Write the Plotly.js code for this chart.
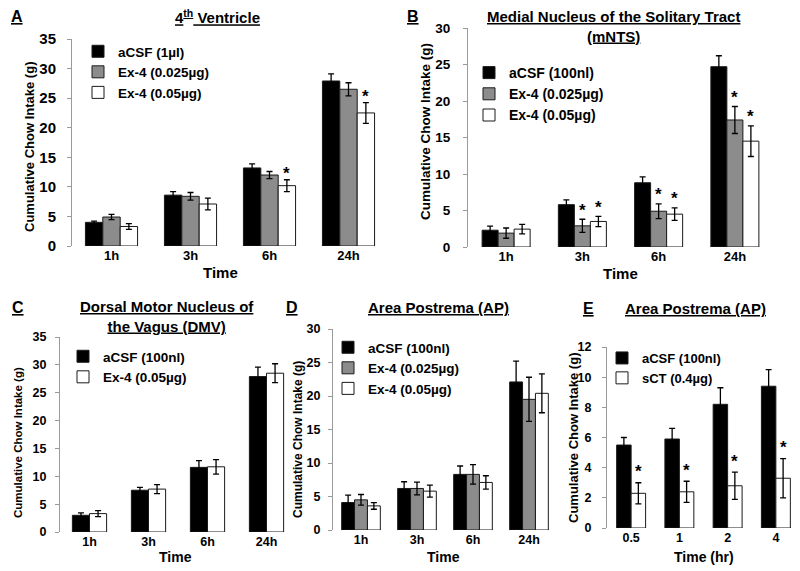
<!DOCTYPE html>
<html>
<head>
<meta charset="utf-8">
<script src="https://cdn.plot.ly/plotly-3.0.1.min.js"></script>
<style>html,body{margin:0;padding:0;background:#fff;}#chart{width:800px;height:571px;}</style>
</head>
<body>
<div id="chart"></div>
<script>
// ---------- DATA ----------
const timeCats = ['1h', '3h', '6h', '24h'];
const hrCats = ['0.5', '1', '2', '4'];

// Panel A: 4th Ventricle
const A_aCSF = [4.0, 8.6, 13.2, 27.9];
const A_aCSF_err = [0.2, 0.6, 0.7, 1.2];
const A_ex025 = [4.9, 8.4, 12.0, 26.5];
const A_ex025_err = [0.45, 0.65, 0.6, 1.1];
const A_ex05 = [3.3, 7.1, 10.2, 22.5];
const A_ex05_err = [0.5, 1.0, 1.0, 1.75];
const A_ex025_sig = [0, 0, 0, 0];
const A_ex05_sig = [0, 0, 1, 1];

// Panel B: mNTS
const B_aCSF = [2.3, 5.8, 8.8, 24.7];
const B_aCSF_err = [0.55, 0.65, 0.8, 1.5];
const B_ex025 = [1.9, 2.9, 4.9, 17.4];
const B_ex025_err = [0.7, 0.9, 1.0, 1.85];
const B_ex05 = [2.45, 3.5, 4.5, 14.5];
const B_ex05_err = [0.65, 0.7, 0.85, 2.1];
const B_ex025_sig = [0, 1, 1, 1];
const B_ex05_sig = [0, 1, 1, 1];

// Panel C: DMV
const C_aCSF = [3.0, 7.5, 11.6, 27.9];
const C_aCSF_err = [0.45, 0.5, 1.2, 1.7];
const C_ex05 = [3.3, 7.7, 11.7, 28.5];
const C_ex05_err = [0.55, 0.8, 1.3, 1.7];

// Panel D: AP (Ex-4)
const D_aCSF = [4.1, 6.2, 8.3, 22.1];
const D_aCSF_err = [1.1, 1.0, 1.25, 3.1];
const D_ex025 = [4.5, 6.2, 8.3, 19.5];
const D_ex025_err = [0.8, 0.95, 1.45, 3.3];
const D_ex05 = [3.6, 5.8, 7.1, 20.4];
const D_ex05_err = [0.5, 0.9, 1.0, 2.9];

// Panel E: AP (sCT)
const E_aCSF = [5.5, 5.9, 8.2, 9.4];
const E_aCSF_err = [0.5, 0.7, 1.1, 1.1];
const E_sCT = [2.3, 2.4, 2.8, 3.3];
const E_sCT_err = [0.7, 0.7, 0.9, 1.3];
const E_sCT_sig = [1, 1, 1, 1];

// ---------- STYLE ----------
const FONT = 'Liberation Sans, Arial, sans-serif';
const W = 800, H = 571;
const BLACK = '#000000', GREY = '#8c8c8c', WHITE = '#ffffff';

const traces = [];
const annotations = [];

function px(x) { return x / W; }
function py(y) { return 1 - y / H; }

function addPanel(p) {
  const n = p.series.length;
  p.series.forEach((s, i) => {
    const off = -n * p.w / 2 + i * p.w;
    traces.push({
      type: 'bar', x: p.cats, y: s.y, name: s.name,
      xaxis: p.xa, yaxis: p.ya, legend: p.legend,
      width: p.w, offset: off,
      marker: { color: s.color, line: { color: '#1a1a1a', width: 1 } },
      error_y: { type: 'data', array: s.err, visible: true, color: '#000', thickness: 1.3, width: 3 },
      hoverinfo: 'skip'
    });
    if (s.sig) {
      s.sig.forEach((f, k) => {
        if (f) {
          annotations.push({
            xref: p.xa, yref: p.ya, x: k + off + p.w / 2, y: s.y[k] + s.err[k],
            text: '*', showarrow: false, yanchor: 'middle', xanchor: 'center',
            yshift: p.starShift, font: { family: FONT, size: 17, weight: 'bold', color: '#000' }
          });
        }
      });
    }
  });
}

addPanel({ cats: timeCats, xa: 'x', ya: 'y', legend: 'legend', w: 0.22, starShift: 6,
  series: [
    { name: 'aCSF (1µl)', y: A_aCSF, err: A_aCSF_err, color: BLACK },
    { name: 'Ex-4 (0.025µg)', y: A_ex025, err: A_ex025_err, color: GREY, sig: A_ex025_sig },
    { name: 'Ex-4 (0.05µg)', y: A_ex05, err: A_ex05_err, color: WHITE, sig: A_ex05_sig }
  ]});
addPanel({ cats: timeCats, xa: 'x2', ya: 'y2', legend: 'legend2', w: 0.21, starShift: 9,
  series: [
    { name: 'aCSF (100nl)', y: B_aCSF, err: B_aCSF_err, color: BLACK },
    { name: 'Ex-4 (0.025µg)', y: B_ex025, err: B_ex025_err, color: GREY, sig: B_ex025_sig },
    { name: 'Ex-4 (0.05µg)', y: B_ex05, err: B_ex05_err, color: WHITE, sig: B_ex05_sig }
  ]});
addPanel({ cats: timeCats, xa: 'x3', ya: 'y3', legend: 'legend3', w: 0.29, starShift: 9,
  series: [
    { name: 'aCSF (100nl)', y: C_aCSF, err: C_aCSF_err, color: BLACK },
    { name: 'Ex-4 (0.05µg)', y: C_ex05, err: C_ex05_err, color: WHITE }
  ]});
addPanel({ cats: timeCats, xa: 'x4', ya: 'y4', legend: 'legend4', w: 0.23, starShift: 9,
  series: [
    { name: 'aCSF (100nl)', y: D_aCSF, err: D_aCSF_err, color: BLACK },
    { name: 'Ex-4 (0.025µg)', y: D_ex025, err: D_ex025_err, color: GREY },
    { name: 'Ex-4 (0.05µg)', y: D_ex05, err: D_ex05_err, color: WHITE }
  ]});
addPanel({ cats: hrCats, xa: 'x5', ya: 'y5', legend: 'legend5', w: 0.30, starShift: 11,
  series: [
    { name: 'aCSF (100nl)', y: E_aCSF, err: E_aCSF_err, color: BLACK },
    { name: 'sCT (0.4µg)', y: E_sCT, err: E_sCT_err, color: WHITE, sig: E_sCT_sig }
  ]});

// ---------- AXES ----------
function xAx(d0, d1, anchor, fs) {
  return { domain: [px(d0), px(d1)], anchor: anchor, type: 'category', showline: false, ticks: '',
    showgrid: false, zeroline: false, range: [-0.5, 3.5],
    tickfont: { family: FONT, size: fs, weight: 'bold', color: '#000' } };
}
function yAx(top, bottom, anchor, rmax, dt, fs, standoff) {
  return { domain: [py(bottom), py(top)], anchor: anchor, range: [0, rmax], dtick: dt,
    showline: true, linecolor: '#9a9a9a', linewidth: 1, ticks: 'outside', ticklen: 4, tickcolor: '#9a9a9a',
    showgrid: false, zeroline: false, ticklabelstandoff: standoff,
    tickfont: { family: FONT, size: fs, weight: 'bold', color: '#000' } };
}

function legendAt(x, y, fs) {
  return { x: px(x), y: py(y), xanchor: 'left', yanchor: 'top', bgcolor: 'rgba(0,0,0,0)',
    borderwidth: 0, font: { family: FONT, size: fs, weight: 'bold', color: '#000' }, traceorder: 'normal' };
}

function ann(x, y, text, size, opts) {
  return Object.assign({ xref: 'paper', yref: 'paper', x: px(x), y: py(y), text: text, showarrow: false,
    xanchor: 'center', yanchor: 'middle',
    font: { family: FONT, size: size, weight: 'bold', color: '#000' } }, opts || {});
}
function ul(size) { return { family: FONT, size: size, weight: 'bold', color: '#000', lineposition: 'under' }; }

// panel letters and titles
annotations.push(ann(17, 16, 'A', 16, { font: ul(16) }));
annotations.push(ann(217, 16, '4<sup>th</sup> Ventricle', 15, { font: ul(15) }));
annotations.push(ann(413, 17, 'B', 16, { font: ul(16) }));
annotations.push(ann(613, 26, 'Medial Nucleus of the Solitary Tract<br>(mNTS)', 15, { font: ul(15) }));
annotations.push(ann(18, 307, 'C', 16, { font: ul(16) }));
annotations.push(ann(167, 316, 'Dorsal Motor Nucleus of<br>the Vagus (DMV)', 15, { font: ul(15) }));
annotations.push(ann(292, 307, 'D', 16, { font: ul(16) }));
annotations.push(ann(438, 307, 'Area Postrema (AP)', 15, { font: ul(15) }));
annotations.push(ann(588, 308, 'E', 16, { font: ul(16) }));
annotations.push(ann(695, 308, 'Area Postrema (AP)', 15, { font: ul(15) }));

// axis titles
const yT = 'Cumulative Chow Intake (g)';
annotations.push(ann(30, 147, yT, 13, { textangle: -90 }));
annotations.push(ann(425, 132, yT, 13.5, { textangle: -90 }));
annotations.push(ann(18, 443, yT, 11.5, { textangle: -90 }));
annotations.push(ann(298, 440, yT, 12, { textangle: -90 }));
annotations.push(ann(573, 438, yT, 13, { textangle: -90 }));
annotations.push(ann(220, 272, 'Time', 15));
annotations.push(ann(620, 273, 'Time', 15));
annotations.push(ann(175, 557, 'Time', 14));
annotations.push(ann(443, 557, 'Time', 14));
annotations.push(ann(704, 557, 'Time (hr)', 14));

const layout = {
  width: W, height: H, margin: { l: 0, r: 0, t: 0, b: 0 },
  paper_bgcolor: '#fff', plot_bgcolor: 'rgba(0,0,0,0)',
  showlegend: true, barmode: 'group',
  xaxis: xAx(72, 388, 'y', 13),
  yaxis: yAx(39, 246, 'x', 35, 5, 15, 8),
  xaxis2: xAx(468, 773, 'y2', 13),
  yaxis2: yAx(28, 247, 'x2', 30, 5, 13.5, 10),
  xaxis3: xAx(60, 296, 'y3', 12.5),
  yaxis3: yAx(337, 532, 'x3', 35, 5, 12.5, 6),
  xaxis4: xAx(333, 557, 'y4', 12.5),
  yaxis4: yAx(329, 530, 'x4', 30, 5, 12.5, 5),
  xaxis5: xAx(607, 800, 'y5', 12.5),
  yaxis5: yAx(347, 528, 'x5', 12, 2, 12.5, 8),
  legend: legendAt(78, 36, 13.5),
  legend2: legendAt(469, 57, 14),
  legend3: legendAt(63, 341, 13.5),
  legend4: legendAt(328, 332, 13.5),
  legend5: legendAt(602, 343, 13),
  annotations: annotations
};

Plotly.newPlot('chart', traces, layout, { staticPlot: true, displayModeBar: false });
</script>
</body>
</html>
